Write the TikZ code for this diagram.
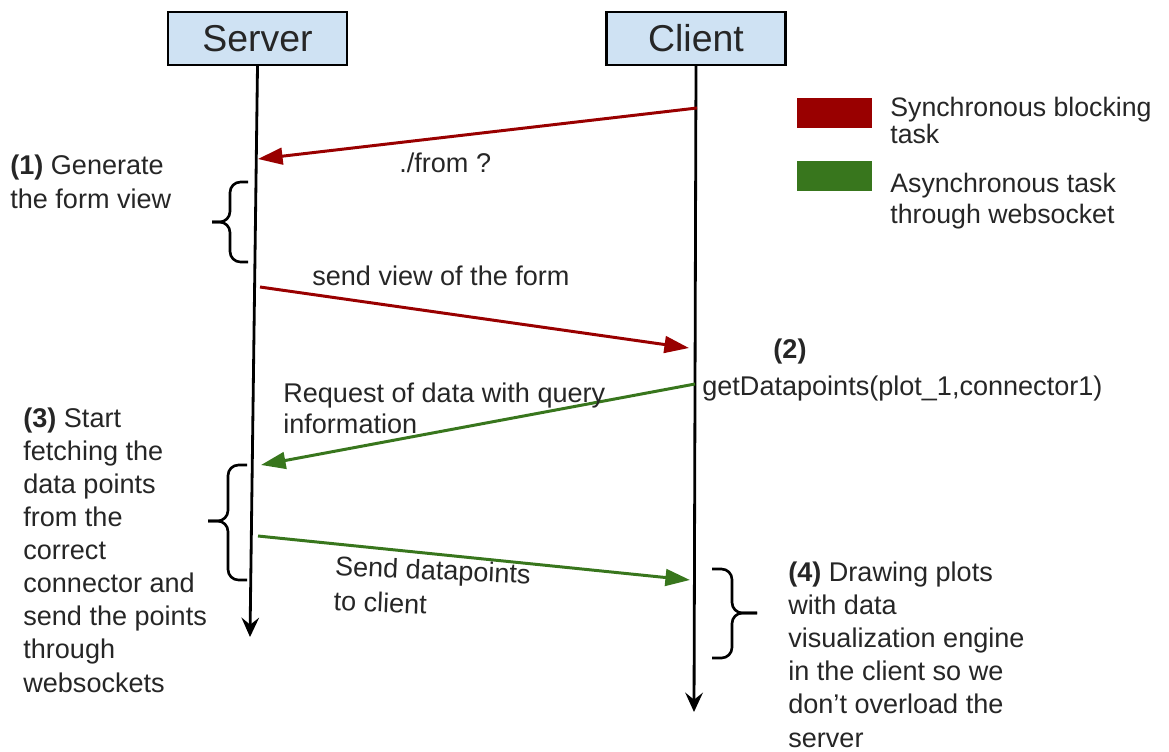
\documentclass[tikz,border=0pt]{standalone}
\usepackage{fontspec}
\setmainfont{Liberation Sans}
\usetikzlibrary{arrows.meta}
\definecolor{syncred}{HTML}{990000}
\definecolor{asyncgreen}{HTML}{38761D}
\definecolor{actorfill}{HTML}{CFE2F3}
\definecolor{ink}{HTML}{262626}

\begin{document}
\begin{tikzpicture}[x=0.02cm,y=-0.02cm,
  actor/.style={draw=black, line width=1.4pt, fill=actorfill, minimum width=3.58cm,
    minimum height=1.06cm, inner sep=0pt, text=ink, font=\fontsize{21.3}{24}\selectfont},
  life/.style={line width=1.6pt, -{Stealth[length=11pt,width=10pt,inset=4pt]}},
  sync/.style={draw=syncred, line width=1.7pt, -{Triangle[length=14pt,width=9.5pt,fill=syncred]}},
  async/.style={draw=asyncgreen, line width=1.7pt, -{Triangle[length=14pt,width=9.5pt,fill=asyncgreen]}},
  % multi-line texts are placed by the baseline of their last line
  txt/.style={anchor=base west, inner sep=0pt, align=left, text=ink,
    font=\fontsize{15.4}{18.8}\selectfont},
  msgtxt/.style={txt, font=\fontsize{15.4}{17.6}\selectfont},
  swatch/.style={minimum width=1.5cm, minimum height=0.6cm, inner sep=0pt},
  bracket/.style={line width=1.5pt, rounded corners=6pt},
]
\useasboundingbox (0,0) rectangle (1169,751);

% actors and their lifelines
\node[actor] (srv) at (257.5,38.5) {Server};
\node[actor] (cli) at (696,38.5) {Client};
\coordinate (srvEnd) at (250,637);
\coordinate (cliEnd) at (694,712);
\draw[life] (srv.south) -- (srvEnd);
\draw[life] (cli.south) -- (cliEnd);

% message end points on the lifelines
\coordinate (m1a) at (697,108);
\coordinate (m1b) at (258,159);
\coordinate (m2a) at (260,287);
\coordinate (m2b) at (689,348);
\coordinate (m3a) at (695,384);
\coordinate (m3b) at (261,465);
\coordinate (m4a) at (258,536);
\coordinate (m4b) at (690,580);

\draw[sync] (m1a) -- (m1b);
\draw[sync] (m2a) -- (m2b);
\draw[async] (m3a) -- (m3b);
\draw[async] (m4a) -- (m4b);

% message labels
\node[msgtxt] (l1) at (399,172) {./from ?};
\node[msgtxt] (l2) at (312,285) {send view of the form};
\node[msgtxt] (l3) at (283,433) {Request of data with query\\information};
\node[txt, rotate=-2.5, font=\fontsize{15.4}{19.8}\selectfont] (l4) at (333,610) {Send datapoints\\to client};

% step descriptions
\node[txt] (s1) at (10,208) {\textbf{(1)} Generate\\the form view};
\node[txt, anchor=base] (s2n) at (790,358) {\textbf{(2)}};
\node[txt] (s2) at (702,395) {getDatapoints(plot\_1,connector1)};
\node[txt] (s3) at (23,692) {\textbf{(3)} Start\\fetching the\\data points\\from the\\correct\\connector and\\send the points\\through\\websockets};
\node[txt] (s4) at (788,747) {\textbf{(4)} Drawing plots\\with data\\visualization engine\\in the client so we\\don’t overload the\\server};

% brackets grouping the work of each step
\draw[bracket] (248,182) -- (230,182) -- (230,222) -- (212,222);
\draw[bracket] (212,222) -- (230,222) -- (230,262) -- (248,262);
\draw[bracket] (247,465) -- (228,465) -- (228,521) -- (208,521);
\draw[bracket] (208,521) -- (228,521) -- (228,580) -- (247,580);
\draw[bracket] (712,569) -- (732,569) -- (732,613) -- (757,613);
\draw[bracket] (757,613) -- (732,613) -- (732,658) -- (712,658);

% legend
\node[swatch, fill=syncred] (kSync) at (834.5,113) {};
\node[swatch, fill=asyncgreen] (kAsync) at (834.5,176) {};
\node[txt, font=\fontsize{15.2}{15}\selectfont] (kSyncT) at (890,143) {Synchronous blocking\\task};
\node[txt, font=\fontsize{15.2}{17.6}\selectfont] (kAsyncT) at (890,223) {Asynchronous task\\through websocket};
\end{tikzpicture}
\end{document}
